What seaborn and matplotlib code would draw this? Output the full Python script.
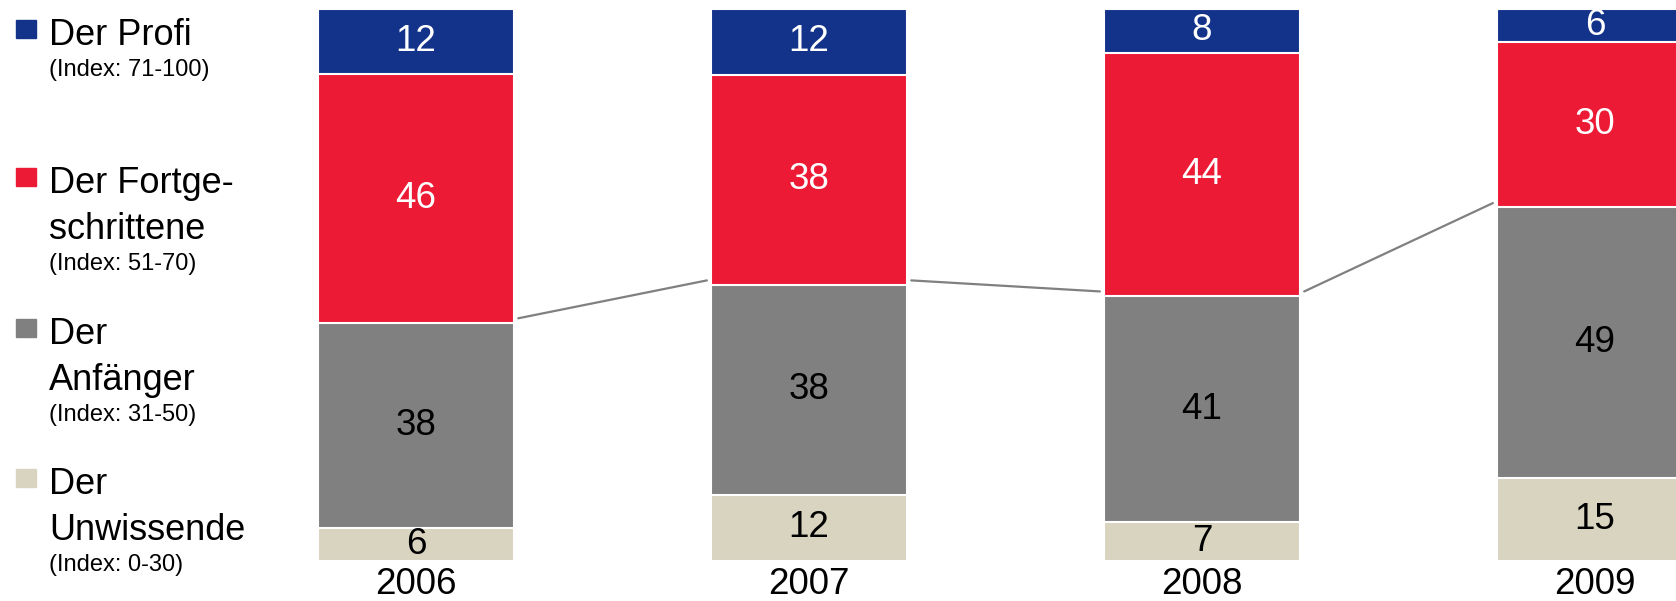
import numpy as np
import pandas as pd
import seaborn as sns
import matplotlib.pyplot as plt
from matplotlib.patches import Rectangle

# Daten (Anteile in %)
jahre = ["2006", "2007", "2008", "2009"]
profi = [12, 12, 8, 6]
fortgeschrittene = [46, 38, 44, 30]
anfaenger = [38, 38, 41, 49]
unwissende = [6, 12, 7, 15]

segmente = ["Der Profi", "Der Fortgeschrittene", "Der Anfänger", "Der Unwissende"]
farben = ["#13338a", "#ed1a36", "#808080", "#d9d4c0"]
textfarben = ["white", "white", "black", "black"]
legende_titel = [["Der Profi"], ["Der Fortge-", "schrittene"], ["Der", "Anfänger"], ["Der", "Unwissende"]]
legende_index = ["(Index: 71-100)", "(Index: 51-70)", "(Index: 31-50)", "(Index: 0-30)"]

sns.set_theme(style="white")
plt.rcParams["font.family"] = ["Liberation Sans", "DejaVu Sans"]
plt.rcParams["text.color"] = "black"

df = pd.DataFrame({"Jahr": jahre, "Der Profi": profi,
                   "Der Fortgeschrittene": fortgeschrittene,
                   "Der Anfänger": anfaenger, "Der Unwissende": unwissende})
# auf 100 normieren (Rundungsdifferenzen)
summe = df[segmente].sum(axis=1)
anteile = df[segmente].div(summe, axis=0) * 100
# kumuliert von unten: Unwissende, Anfänger, Fortgeschrittene, Profi
kum = anteile[segmente[::-1]].cumsum(axis=1)

fig = plt.figure(figsize=(16.76, 6.01), dpi=100)
ax = fig.add_axes([0.131, 0.0666, 0.869, 0.919])

# gestapelte Balken: von der Gesamthöhe nach unten übermalen
for seg, col in zip(segmente, farben):
    sns.barplot(x=df["Jahr"], y=kum[seg], color=col, width=0.5, saturation=1,
                edgecolor="white", linewidth=1.5, ax=ax)

# Werte in die Segmente schreiben
for seg, tcol in zip(segmente, textfarben):
    oben = kum[seg]
    unten = oben - anteile[seg]
    for i in range(len(jahre)):
        ax.text(i, (oben[i] + unten[i]) / 2, str(df[seg][i]), ha="center",
                va="center", fontsize=26.5, color=tcol)

# Verbindungslinien an der Grenze Anfänger/Fortgeschrittene
grenze = kum["Der Anfänger"].values
for i in range(len(jahre) - 1):
    ax.plot([i + 0.26, i + 1 - 0.26], [grenze[i] + 0.8, grenze[i + 1] + 0.8],
            color="#808080", lw=1.6, zorder=1)

ax.set_xlim(-0.5, 3.206)
ax.set_ylim(0, 100)
ax.set_xlabel("")
ax.set_ylabel("")
ax.set_yticks([])
ax.tick_params(axis="x", length=0, pad=24, labelsize=26.5, labelcolor="black")
for lab in ax.get_xticklabels():
    lab.set_verticalalignment("baseline")
sns.despine(ax=ax, left=True, bottom=True)

# Legende links
H = 601
basis = [45, 193, 344, 494]
for k in range(4):
    b = basis[k]
    fig.patches.append(Rectangle((16 / 1676, 1 - (b - 7) / H), 20 / 1676, 18 / H,
                                 transform=fig.transFigure, color=farben[k]))
    for j, zeile in enumerate(legende_titel[k]):
        fig.text(49 / 1676, 1 - (b + 46 * j) / H, zeile, fontsize=26,
                 va="baseline", ha="left", color="black")
    n = len(legende_titel[k])
    fig.text(49 / 1676, 1 - (b + 46 * (n - 1) + 31) / H, legende_index[k],
             fontsize=17, va="baseline", ha="left", color="black")

fig.savefig("out.png", dpi=100)
